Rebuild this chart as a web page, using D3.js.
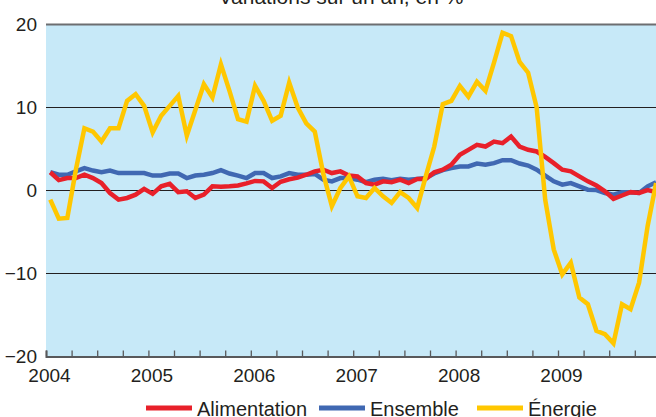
<html>
<meta charset="utf-8" />
<head>
<title>Variations sur un an, en %</title>
<script src="https://cdn.jsdelivr.net/npm/d3@7/dist/d3.min.js"></script>
<style>
	body { margin: 0; background: #fff; }
	svg text { font-family: 'Liberation Sans', Arial, sans-serif; fill: #231f20; }
</style>
<script>
// données mensuelles, janvier 2004 -> décembre 2009 (glissement annuel, en %)
const years = [2004, 2005, 2006, 2007, 2008, 2009];
const yTicks = [20, 10, 0, -10, -20];
const seriesNames = ['Alimentation', 'Ensemble', 'Énergie'];

const alimentation = [
	2.2, 1.25, 1.5, 1.5, 1.9, 1.5, 0.9, -0.3, -1.1, -0.9, -0.5, 0.2,
	-0.4, 0.5, 0.8, -0.2, -0.1, -0.9, -0.5, 0.5, 0.45, 0.5, 0.6, 0.85,
	1.15, 1.1, 0.3, 1.05, 1.35, 1.55, 1.9, 2.3, 2.5, 2.1, 2.3, 1.8,
	1.7, 0.9, 0.7, 1.1, 1.0, 1.3, 0.9, 1.4, 1.4, 2.2, 2.5, 3.1,
	4.3, 4.9, 5.5, 5.3, 5.9, 5.7, 6.5, 5.3, 4.9, 4.7, 4.05, 3.3,
	2.5, 2.3, 1.7, 1.1, 0.6, -0.1, -1.0, -0.6, -0.2, -0.3, 0.05, -0.2
];

const ensemble = [
	2.2, 1.9, 1.9, 2.3, 2.7, 2.4, 2.2, 2.4, 2.1, 2.1, 2.1, 2.1,
	1.8, 1.8, 2.05, 2.05, 1.5, 1.8, 1.9, 2.1, 2.45, 2.05, 1.8, 1.5,
	2.1, 2.1, 1.5, 1.7, 2.1, 1.9, 1.9, 2.0, 1.3, 1.1, 1.5, 1.5,
	1.3, 1.0, 1.3, 1.4, 1.25, 1.4, 1.3, 1.4, 1.5, 2.05, 2.45, 2.7,
	2.9, 2.9, 3.25, 3.1, 3.3, 3.65, 3.65, 3.25, 3.0, 2.5, 1.8, 1.1,
	0.7, 0.9, 0.5, 0.1, 0.05, -0.3, -0.5, -0.2, -0.2, -0.3, 0.5, 1.0
];

const energie = [
	-1.1, -3.4, -3.3, 2.5, 7.5, 7.1, 5.9, 7.5, 7.5, 10.8, 11.6, 10.2,
	7.0, 9.0, 10.2, 11.4, 6.6, 9.7, 12.8, 11.2, 15.2, 12.0, 8.6, 8.3,
	12.6, 10.8, 8.4, 9.0, 13.0, 10.0, 8.1, 7.1, 2.0, -1.9, 0.3, 1.7,
	-0.7, -0.9, 0.3, -0.7, -1.5, -0.2, -0.9, -2.1, 1.7, 5.3, 10.4, 10.8,
	12.6, 11.3, 13.1, 12.0, 15.4, 19.0, 18.6, 15.5, 14.2, 10.0, -1.1, -7.1,
	-10.1, -8.7, -12.9, -13.7, -16.9, -17.3, -18.4, -13.7, -14.3, -11.1, -4.3, 0.9
];

const colors = ['#e8202a', '#4068b2', '#ffc700'];

window.onload = function() {
	let svg = d3.select('svg');

	let xScale = d3.scaleLinear().domain([2004, 2010]).range([46, 660.4]);
	let yScale = d3.scaleLinear().domain([-20, 20]).range([356.5, 24.5]);

	// fond bleu clair
	svg.append('rect')
		.attr('x', xScale(2004))
		.attr('y', yScale(20))
		.attr('width', xScale(2010) - xScale(2004))
		.attr('height', yScale(-20) - yScale(20))
		.style('fill', '#c7e9f8');

	// lignes horizontales
	svg.append('g').selectAll('line')
		.data(yTicks.filter(d => d > -20))
		.enter().append('line')
		.attr('x1', xScale(2004))
		.attr('x2', xScale(2010))
		.attr('y1', d => yScale(d))
		.attr('y2', d => yScale(d))
		.style('stroke', d => d == 20 ? '#6d6e71' : '#231f20')
		.style('stroke-width', d => d == 20 ? '2px' : '1.2px');

	// axe vertical : seulement les libellés
	let yAxis = d3.axisLeft(yScale).tickValues(yTicks).tickSize(0).tickPadding(9);
	let gy = svg.append('g').attr('transform', 'translate(' + xScale(2004) + ', 0)').call(yAxis);
	gy.select('.domain').remove();
	gy.selectAll('text').style('font-size', '19px');

	// axe horizontal : un trait par trimestre, libellé par année
	let quarters = d3.range(0, 25).map(q => 2004 + q / 4);
	let xAxis = d3.axisBottom(xScale)
		.tickValues(quarters)
		.tickSize(-6)
		.tickPadding(12)
		.tickFormat(d => years.indexOf(d) >= 0 ? d : '');
	let gx = svg.append('g').attr('transform', 'translate(0, ' + yScale(-20) + ')').call(xAxis);
	gx.select('.domain').style('stroke', '#58595b').style('stroke-width', '2px');
	gx.selectAll('.tick line').style('stroke', '#58595b').style('stroke-width', '1.3px');
	gx.selectAll('text').style('font-size', '19px').attr('dx', 3);

	// courbes
	let line = d3.line()
		.x((d, i) => xScale(2004 + (i + 0.5) / 12))
		.y(d => yScale(d));

	let order = [1, 0, 2]; // ensemble, alimentation puis énergie par-dessus
	let data = [alimentation, ensemble, energie];
	order.forEach(k => {
		svg.append('path')
			.attr('d', line(data[k]))
			.style('fill', 'none')
			.style('stroke', colors[k])
			.style('stroke-width', '4.5px');
	});

	// titre (coupé en haut)
	svg.append('text')
		.attr('x', 341)
		.attr('y', 4)
		.attr('text-anchor', 'middle')
		.style('font-size', '21px')
		.text('Variations sur un an, en %');

	// légende
	let legendX = [146, 319, 477];
	let legend = svg.append('g').selectAll('g')
		.data(seriesNames).enter()
		.append('g')
		.attr('transform', (d, i) => 'translate(' + legendX[i] + ', 408)');
	legend.append('line')
		.attr('x1', 0).attr('x2', 46)
		.attr('y1', 0).attr('y2', 0)
		.style('stroke', (d, i) => colors[i])
		.style('stroke-width', '5px');
	legend.append('text')
		.attr('x', 51)
		.attr('y', 8)
		.style('font-size', '20px')
		.text(d => d);
}
</script>
</head>
<body>
<svg style="width:656px; height:417px; display:block" />
</body>
</html>
